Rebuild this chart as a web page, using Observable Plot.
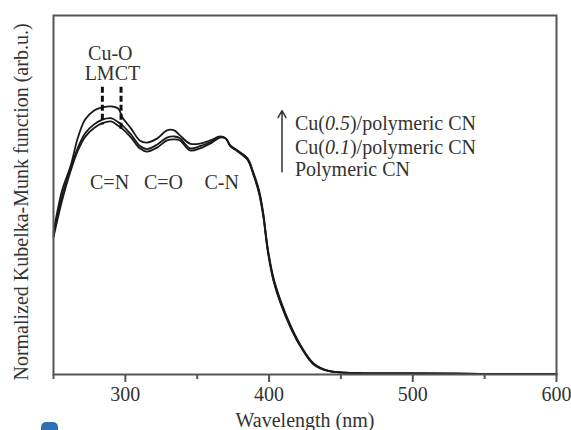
<!DOCTYPE html>
<html>
<head>
<meta charset="utf-8">
<script src="https://cdn.jsdelivr.net/npm/d3@7"></script>
<script src="https://cdn.jsdelivr.net/npm/@observablehq/plot@0.6"></script>
<style>
  html, body { margin: 0; padding: 0; background: #fff; }
  #chart { position: relative; width: 571px; height: 430px; }
  #chart svg, #chart svg text { font-family: "Liberation Serif", "DejaVu Serif", serif; }
  #badge { position: absolute; left: 41px; top: 422px; width: 17px; height: 8px;
           background: #2f6fb3; border-radius: 5px 5px 0 0; }
</style>
</head>
<body>
<div id="chart"><div id="badge"></div></div>
<script>
// Diffuse-reflectance spectra (Kubelka-Munk, normalized)
const wavelength = [250, 256, 262, 267, 272, 278, 284, 290, 295, 298, 304, 310, 315, 322, 329, 334, 338, 345, 352, 359, 366, 370, 373, 378, 385, 389, 393, 396, 399, 403, 408, 415, 422, 431, 441, 462, 496, 547, 600];
const cu05 = [0.396, 0.513, 0.582, 0.660, 0.710, 0.735, 0.744, 0.747, 0.741, 0.716, 0.685, 0.652, 0.646, 0.657, 0.680, 0.680, 0.666, 0.643, 0.643, 0.652, 0.663, 0.657, 0.638, 0.624, 0.602, 0.563, 0.513, 0.448, 0.354, 0.270, 0.206, 0.136, 0.081, 0.031, 0.011, 0.004, 0.003, 0.002, 0.0015];
const cu01 = [0.388, 0.497, 0.574, 0.632, 0.672, 0.696, 0.710, 0.714, 0.703, 0.694, 0.668, 0.637, 0.628, 0.640, 0.660, 0.663, 0.658, 0.630, 0.636, 0.647, 0.661, 0.657, 0.637, 0.623, 0.600, 0.560, 0.509, 0.444, 0.350, 0.266, 0.202, 0.133, 0.079, 0.029, 0.010, 0.004, 0.003, 0.002, 0.0015];
const pcn  = [0.382, 0.485, 0.568, 0.624, 0.662, 0.686, 0.700, 0.705, 0.693, 0.684, 0.660, 0.630, 0.621, 0.632, 0.652, 0.655, 0.652, 0.624, 0.630, 0.643, 0.660, 0.657, 0.636, 0.622, 0.598, 0.558, 0.505, 0.440, 0.345, 0.262, 0.198, 0.130, 0.077, 0.028, 0.010, 0.004, 0.003, 0.002, 0.0015];

const seriesNames = ["Cu(0.5)/polymeric CN", "Cu(0.1)/polymeric CN", "Polymeric CN"];
const seriesValues = [cu05, cu01, pcn];

// Band assignments
const bandLabels = ["C=N", "C=O", "C-N"];
const bandX = [289, 326.5, 367];
const bandY = 0.535;

// Cu-O LMCT markers
const lmctX = [284, 297];
const lmctTop = [0.80, 0.80];
const lmctBottom = [0.695, 0.675];
const lmctText = ["Cu-O", "LMCT"];
const lmctTextX = [289.5, 291];
const lmctTextY = [0.894, 0.838];

// Legend
const legendX = 418;
const legendY = [0.699, 0.632, 0.571];
const arrowX = 409;
const arrowY = [0.565, 0.735];

const majorTicks = [300, 400, 500, 600];
const minorTicks = [250, 350, 450, 550];
const xLabel = "Wavelength (nm)";
const yLabel = "Normalized Kubelka-Munk function (arb.u.)";

const rows = seriesNames.flatMap((name, i) =>
  wavelength.map((w, j) => ({series: name, x: w, y: seriesValues[i][j]})));

const ink = "#333";
const font = "Liberation Serif, DejaVu Serif, serif";

const chart = Plot.plot({
  width: 571,
  height: 430,
  marginLeft: 53,
  marginRight: 15,
  marginTop: 15,
  marginBottom: 56,
  style: {fontFamily: font, fontSize: "20px", color: ink, background: "#fff"},
  x: {domain: [250, 600]},
  y: {domain: [0, 1], axis: null},
  marks: [
    Plot.line(rows, {x: "x", y: "y", z: "series", stroke: "#1a1a1a", strokeWidth: 1.8, curve: "catmull-rom"}),
    Plot.ruleX(lmctX, {x: d => d, y1: (d, i) => lmctTop[i], y2: (d, i) => lmctBottom[i],
      stroke: "#111", strokeWidth: 3, strokeDasharray: "6,3"}),
    Plot.text(lmctText, {x: (d, i) => lmctTextX[i], y: (d, i) => lmctTextY[i], text: d => d,
      fontSize: 20, fontFamily: font, fill: ink}),
    Plot.text(bandLabels, {x: (d, i) => bandX[i], y: bandY, text: d => d,
      fontSize: 20, fontFamily: font, fill: ink}),
    Plot.arrow([0], {x1: arrowX, x2: arrowX, y1: arrowY[0], y2: arrowY[1],
      stroke: ink, strokeWidth: 1.5, headLength: 8, bend: 0}),
    Plot.text(seriesNames, {x: legendX, y: (d, i) => legendY[i], text: d => d,
      textAnchor: "start", fontSize: 20, fontFamily: font, fill: ink, className: "legend-entry"}),
    Plot.text([yLabel], {frameAnchor: "left", textAnchor: "middle", rotate: -90, dx: -32, dy: 7,
      fontSize: 20, fontFamily: font, fill: ink}),
    Plot.frame({stroke: "#555", strokeWidth: 2}),
    Plot.axisX(minorTicks, {tickSize: 5, tickFormat: () => "", stroke: "#555", strokeWidth: 2, label: null}),
    Plot.axisX(majorTicks, {tickSize: 8, tickPadding: 4, stroke: "#555", strokeWidth: 2,
      fontSize: 20, fontFamily: font, fill: ink, label: xLabel, labelAnchor: "center",
      labelArrow: "none", labelOffset: 52})
  ]
});

// Italicize the composition numbers inside the legend entries
d3.select(chart).selectAll(".legend-entry text").each(function() {
  const t = this.textContent;
  const m = t.match(/^(Cu\()([\d.]+)(\).*)$/);
  if (!m) return;
  const sel = d3.select(this);
  sel.text(null);
  sel.append("tspan").text(m[1]);
  sel.append("tspan").attr("font-style", "italic").text(m[2]);
  sel.append("tspan").text(m[3]);
});

document.getElementById("chart").prepend(chart);
</script>
</body>
</html>
